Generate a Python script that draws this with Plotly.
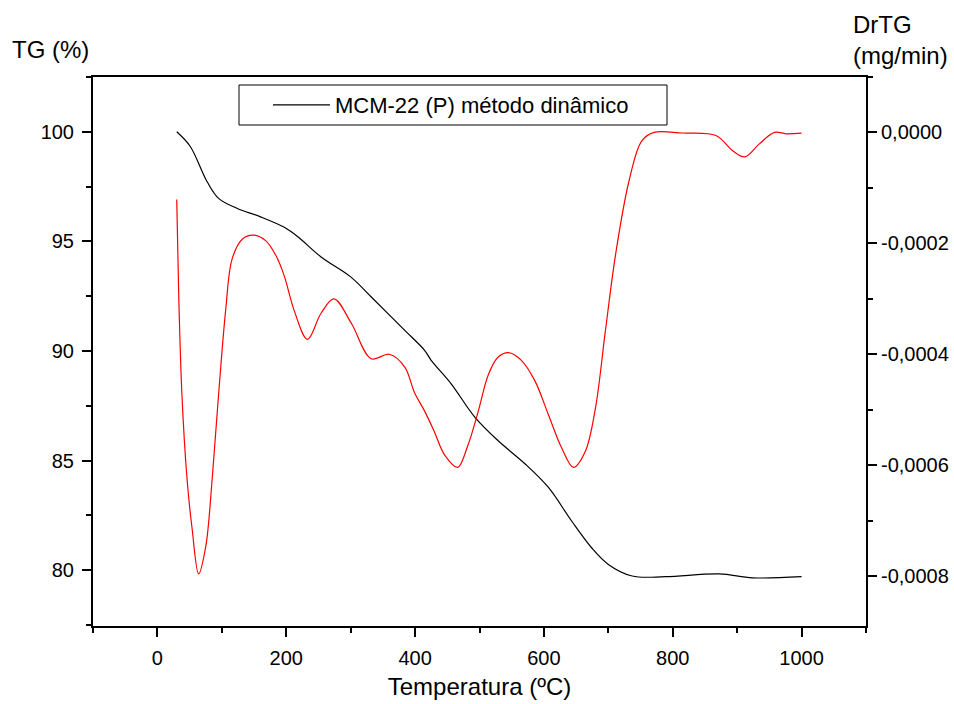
import plotly.graph_objects as go

# TG curve (%)
temp_tg = [30, 51, 77, 95, 124, 160, 197, 218, 254, 300, 332, 384, 415, 425, 456,
           493, 529, 571, 607, 643, 674, 700, 737, 789, 872, 924, 1000]
tg = [100.0, 99.33, 97.73, 96.96, 96.5, 96.12, 95.64, 95.21, 94.29, 93.38, 92.46, 90.94, 90.02,
      89.57, 88.5, 86.97, 85.9, 84.84, 83.77, 82.24, 81.02, 80.26, 79.73, 79.70, 79.83, 79.65, 79.70]

# DrTG curve (mg/min)
temp_dr = [30, 33, 38, 46, 54, 64, 75, 85, 95, 106, 116, 132, 149, 168, 184, 197, 212, 233,
           254, 274, 301, 332, 360, 384, 399, 415, 430, 446, 466, 482, 498, 514, 529, 545,
           565, 586, 607, 628, 646, 664, 680, 695, 711, 732, 752, 771, 815, 867, 893, 912,
           934, 958, 976, 1000]
drtg = [-0.000121, -0.000289, -0.000472, -0.000625, -0.000716, -0.000796, -0.000747, -0.000625,
        -0.000472, -0.00032, -0.000228, -0.000192, -0.000185, -0.000195, -0.000222, -0.000259,
        -0.00032, -0.000373, -0.000326, -0.0003, -0.000344, -0.000408, -0.0004, -0.000423,
        -0.000469, -0.000503, -0.00054, -0.000582, -0.000604, -0.000564, -0.000503, -0.000436,
        -0.000405, -0.000397, -0.000411, -0.000448, -0.000509, -0.00057, -0.000604, -0.000576,
        -0.000497, -0.000362, -0.000222, -0.000088, -0.000015, 0.0, -0.000001, -0.0000055,
        -0.000033, -0.000044, -0.000021, 0.0, -0.0000024, -0.0000013]

x_ticks = [0, 200, 400, 600, 800, 1000]
y_ticks = [80, 85, 90, 95, 100]
y2_ticks = [0, -0.0002, -0.0004, -0.0006, -0.0008]
y2_labels = ["0,0000", "-0,0002", "-0,0004", "-0,0006", "-0,0008"]

fig = go.Figure()
fig.add_trace(go.Scatter(x=temp_tg, y=tg, mode="lines", name="MCM-22 (P) método dinâmico",
                         line=dict(color="black", width=1.2, shape="spline")))
fig.add_trace(go.Scatter(x=temp_dr, y=drtg, mode="lines", yaxis="y2", showlegend=False,
                         line=dict(color="red", width=1.2, shape="spline")))

fnt = "Liberation Sans, Arial, sans-serif"
ax = dict(showgrid=False, zeroline=False, showline=True, linecolor="black", linewidth=2,
          ticks="outside", ticklen=9, tickwidth=2, tickcolor="black", automargin=False)
mn = dict(ticks="outside", ticklen=5, tickwidth=2, tickcolor="black", showgrid=False)

W, H = 954, 704
L, R, T, B = 93, 88, 77, 78
pw, ph = W - L - R, H - T - B


def px(x):
    return (x - L) / pw


def py(y):
    return (H - B - y) / ph


fig.update_layout(
    width=W, height=H,
    margin=dict(l=L, r=R, t=T, b=B),
    paper_bgcolor="white", plot_bgcolor="white",
    font=dict(family=fnt, size=20, color="black"),
    xaxis=dict(range=[-100, 1100], tickvals=x_ticks, mirror=True, ticklabelstandoff=4,
               minor=dict(dtick=100, tick0=-100, **mn),
               title=dict(text="Temperatura (ºC)", font=dict(size=24), standoff=10), **ax),
    yaxis=dict(range=[77.45, 102.5], tickvals=y_ticks, ticklabelstandoff=4,
               minor=dict(dtick=2.5, tick0=0, **mn), **ax),
    yaxis2=dict(range=[-0.00089, 0.0001], overlaying="y", side="right",
                tickvals=y2_ticks, ticktext=y2_labels, ticklabelstandoff=0,
                minor=dict(dtick=0.0001, tick0=0, **mn), **ax),
    legend=dict(x=px(268), y=py(105), xanchor="left", yanchor="middle",
                bgcolor="rgba(0,0,0,0)", borderwidth=0, font=dict(size=22), itemwidth=57),
    shapes=[
        # legend frame
        dict(type="rect", xref="paper", yref="paper", x0=px(239), x1=px(667), y0=py(125), y1=py(85),
             line=dict(color="black", width=1), fillcolor="white", layer="below"),
    ],
    annotations=[
        dict(text="TG (%)", xref="paper", yref="paper", x=px(10), y=py(50),
             xanchor="left", yanchor="middle", showarrow=False, font=dict(size=24)),
        dict(text="DrTG", xref="paper", yref="paper", x=px(851), y=py(24),
             xanchor="left", yanchor="middle", showarrow=False, font=dict(size=24)),
        dict(text="(mg/min)", xref="paper", yref="paper", x=px(851), y=py(55),
             xanchor="left", yanchor="middle", showarrow=False, font=dict(size=24)),
    ],
)

# drop the default 8px page margin so the 954x704 figure fills the window exactly
fig.write_html("out.html", config={"displayModeBar": False},
               post_script="document.body.style.margin='0';")
